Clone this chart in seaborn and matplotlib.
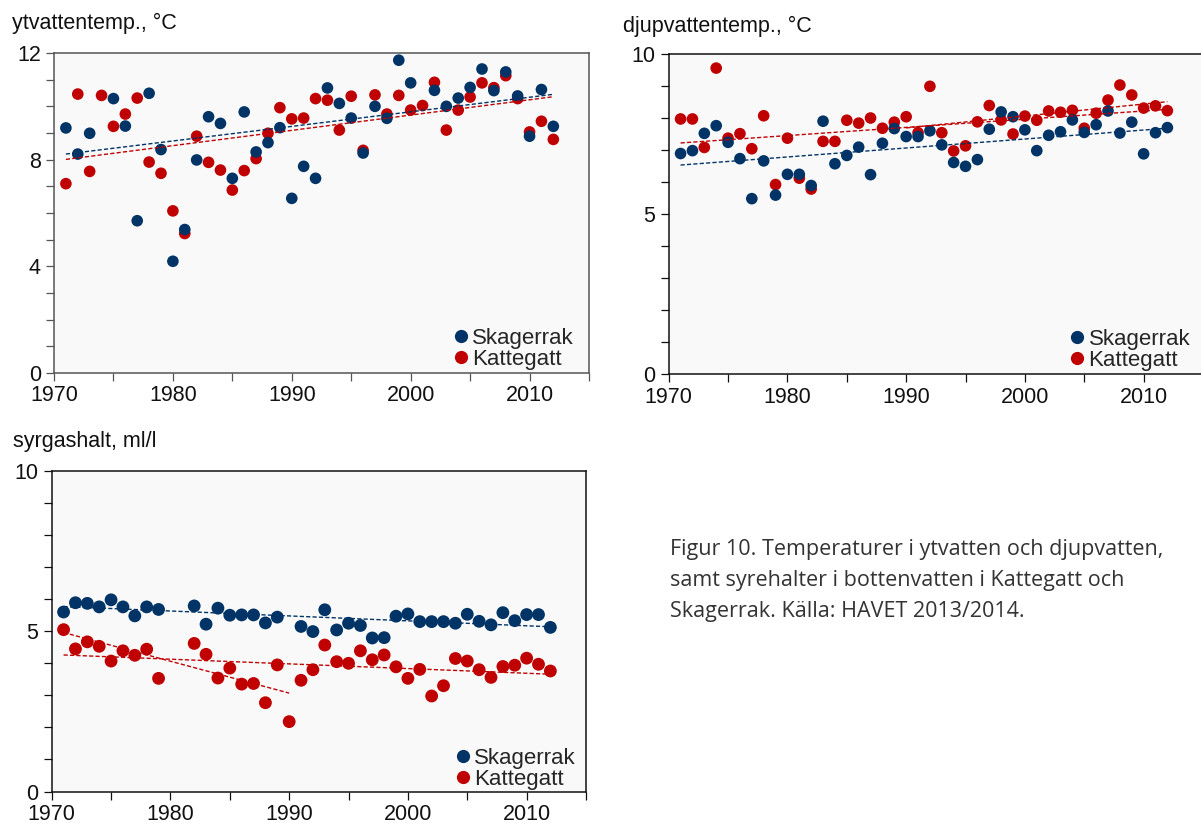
import numpy as np
import pandas as pd
import matplotlib
matplotlib.use("Agg")
import matplotlib.pyplot as plt
import seaborn as sns
from matplotlib.lines import Line2D

# ---------------- data ----------------
years = list(range(1971, 2013))
nan = np.nan

yt_skagerrak = [9.19, 8.21, 8.99, nan, 10.29, 9.26, 5.71, 10.49, 8.38, 4.19,
                5.38, 7.99, 9.61, 9.36, 7.30, 9.79, 8.29, 8.64, 9.20, 6.55,
                7.75, 7.30, 10.69, 10.11, 9.56, 8.25, 10.00, 9.55, 11.73, 10.88,
                nan, 10.60, 10.00, 10.31, 10.71, 11.40, 10.59, 11.29, 10.39, 8.88,
                10.63, 9.25]
yt_kattegatt = [7.10, 10.46, 7.56, 10.41, 9.25, 9.71, 10.31, 7.91, 7.49, 6.08,
                5.23, 8.88, 7.90, 7.61, 6.86, 7.59, 8.04, 8.99, 9.95, 9.53,
                9.56, 10.29, 10.23, 9.11, 10.38, 8.35, 10.43, 9.71, 10.41, 9.86,
                10.03, 10.90, 9.11, 9.86, 10.35, 10.88, 10.70, 11.15, 10.29, 9.04,
                9.44, 8.76]

dj_skagerrak = [6.89, 6.98, 7.52, 7.76, 7.24, 6.73, 5.48, 6.66, 5.59, 6.24,
                6.24, 5.89, 7.90, 6.57, 6.83, 7.09, 6.23, 7.21, 7.67, 7.42,
                7.42, 7.60, 7.16, 6.61, 6.49, 6.70, 7.65, 8.19, 8.04, 7.63,
                6.98, 7.46, 7.57, 7.94, 7.55, 7.79, 8.22, 7.53, 7.87, 6.88,
                7.54, 7.70]
dj_kattegatt = [7.97, 7.97, 7.08, 9.56, 7.37, 7.51, 7.04, 8.07, 5.92, 7.37,
                6.12, 5.78, 7.27, 7.27, 7.93, 7.84, 8.00, 7.68, 7.87, 8.04,
                7.54, 8.99, 7.54, 6.97, 7.13, 7.88, 8.39, 7.94, 7.50, 8.06,
                7.93, 8.22, 8.18, 8.24, 7.68, 8.15, 8.56, 9.03, 8.72, 8.31,
                8.38, 8.23]

syr_skagerrak = [5.60, 5.89, 5.87, 5.76, 5.98, 5.76, 5.48, 5.76, 5.68, nan,
                 nan, 5.79, 5.22, 5.72, 5.50, 5.51, 5.51, 5.26, 5.44, nan,
                 5.15, 4.99, 5.67, 5.04, 5.25, 5.18, 4.79, 4.80, 5.47, 5.54,
                 5.30, 5.30, 5.30, 5.25, 5.53, 5.31, 5.20, 5.58, 5.33, 5.52,
                 5.52, 5.12]
syr_kattegatt = [5.05, 4.45, 4.67, 4.53, 4.07, 4.39, 4.25, 4.44, 3.53, nan,
                 nan, 4.62, 4.28, 3.54, 3.85, 3.35, 3.37, 2.77, 3.95, 2.18,
                 3.47, 3.80, 4.57, 4.05, 4.00, 4.39, 4.11, 4.26, 3.89, 3.53,
                 3.81, 2.98, 3.30, 4.15, 4.07, 3.80, 3.56, 3.90, 3.94, 4.16,
                 3.97, 3.76]

# trend lines
trend_years = [1971, 2012]
yt_trend_skagerrak = [8.21, 10.45]
yt_trend_kattegatt = [8.01, 10.36]
dj_trend_skagerrak = [6.53, 7.68]
dj_trend_kattegatt = [7.22, 8.27]
dj_trend2_years = [1990, 2012]
dj_trend2_kattegatt = [7.69, 8.51]
syr_trend_skagerrak = [5.77, 5.14]
syr_trend_kattegatt = [4.26, 3.66]
syr_trend2_years = [1971, 1990]
syr_trend2_kattegatt = [4.96, 3.07]

series_names = ["Skagerrak", "Kattegatt"]
titles = ["ytvattentemp., °C", "djupvattentemp., °C", "syrgashalt, ml/l"]
caption_lines = ["Figur 10. Temperaturer i ytvatten och djupvatten,",
                 "samt syrehalter i bottenvatten i Kattegatt och",
                 "Skagerrak. Källa: HAVET 2013/2014."]
x_ticks = list(range(1970, 2016, 5))
x_ticklabels = ["1970", "", "1980", "", "1990", "", "2000", "", "2010", ""]

# ---------------- style ----------------
sns.set_theme(style="ticks")
plt.rcParams['font.family'] = ['Liberation Sans', 'DejaVu Sans']

BLUE = "#003366"
RED = "#C00000"
BG = "#F9F9F9"
palette = {"Skagerrak": BLUE, "Kattegatt": RED}

W, H = 1201, 823
fig = plt.figure(figsize=(W / 100, H / 100), dpi=100)


def rect(l, t, r, b):
    return [l / W, 1 - b / H, (r - l) / W, (b - t) / H]


def make_df(sk, ka):
    d1 = pd.DataFrame({"year": years, "value": ka, "area": "Kattegatt"})
    d2 = pd.DataFrame({"year": years, "value": sk, "area": "Skagerrak"})
    return pd.concat([d1, d2], ignore_index=True).dropna()


def panel(pos, sk, ka, trends, ymax, ylab_step, spine_color, msize, leg_anchor, xpad):
    ax = fig.add_axes(pos)
    ax.set_facecolor(BG)
    df = make_df(sk, ka)
    sns.scatterplot(data=df, x="year", y="value", hue="area", palette=palette,
                    s=msize, linewidth=0, legend=False, ax=ax, zorder=2)
    for ty, tv, col in trends:
        ax.plot(ty, tv, color=col, lw=1.0, linestyle=(0, (3, 1.6)), zorder=3)
    ax.set_xlim(1970, 2015)
    ax.set_ylim(0, ymax)
    ax.set_xticks(x_ticks)
    ax.set_xticklabels(x_ticklabels)
    yt = list(range(0, ymax + 1))
    ax.set_yticks(yt)
    ax.set_yticklabels([str(v) if v % ylab_step == 0 else "" for v in yt])
    ax.set_xlabel("")
    ax.set_ylabel("")
    for sp in ax.spines.values():
        sp.set_visible(True)
        sp.set_color(spine_color)
        sp.set_linewidth(1.1)
    ax.tick_params(axis="both", direction="out", length=6, width=0.9,
                   color=spine_color, labelsize=15.5, labelcolor="#111111")
    ax.tick_params(axis="y", pad=3.5)
    ax.tick_params(axis="x", pad=xpad)
    handles = [Line2D([], [], marker="o", ls="", color=palette[n],
                      markersize=9.5, markeredgewidth=0) for n in series_names]
    ax.legend(handles, series_names, loc="lower right", bbox_to_anchor=leg_anchor,
              frameon=False, fontsize=16, handlelength=0.7, handletextpad=0.15,
              labelspacing=0.0, borderpad=0.0, borderaxespad=0.0)
    return ax


panel(rect(54, 53, 589, 373), yt_skagerrak, yt_kattegatt,
      [(trend_years, yt_trend_skagerrak, BLUE), (trend_years, yt_trend_kattegatt, RED)],
      12, 4, "#555555", 70, (0.972, 0.01), 3.0)
panel(rect(668.7, 54, 1203, 374), dj_skagerrak, dj_kattegatt,
      [(trend_years, dj_trend_skagerrak, BLUE), (trend_years, dj_trend_kattegatt, RED),
       (dj_trend2_years, dj_trend2_kattegatt, RED)],
      10, 5, "#111111", 70, (0.976, 0.01), 3.0)
panel(rect(51.7, 471, 586, 791.5), syr_skagerrak, syr_kattegatt,
      [(trend_years, syr_trend_skagerrak, BLUE), (trend_years, syr_trend_kattegatt, RED),
       (syr_trend2_years, syr_trend2_kattegatt, RED)],
      10, 5, "#111111", 85, (0.981, 0.005), 3.0)

# panel titles
for (x, yb), t in zip([(12, 29), (623, 32), (12.7, 446.7)], titles):
    fig.text(x / W, 1 - yb / H, t, fontsize=15.5, color="#111111", va="baseline", ha="left")

# caption
for i, line in enumerate(caption_lines):
    fig.text(670 / W, 1 - (555 + 31 * i) / H, line, fontsize=15.5, color="#333333",
             va="baseline", ha="left", family=["Open Sans", "DejaVu Sans"])

fig.savefig("out.png", dpi=100)
